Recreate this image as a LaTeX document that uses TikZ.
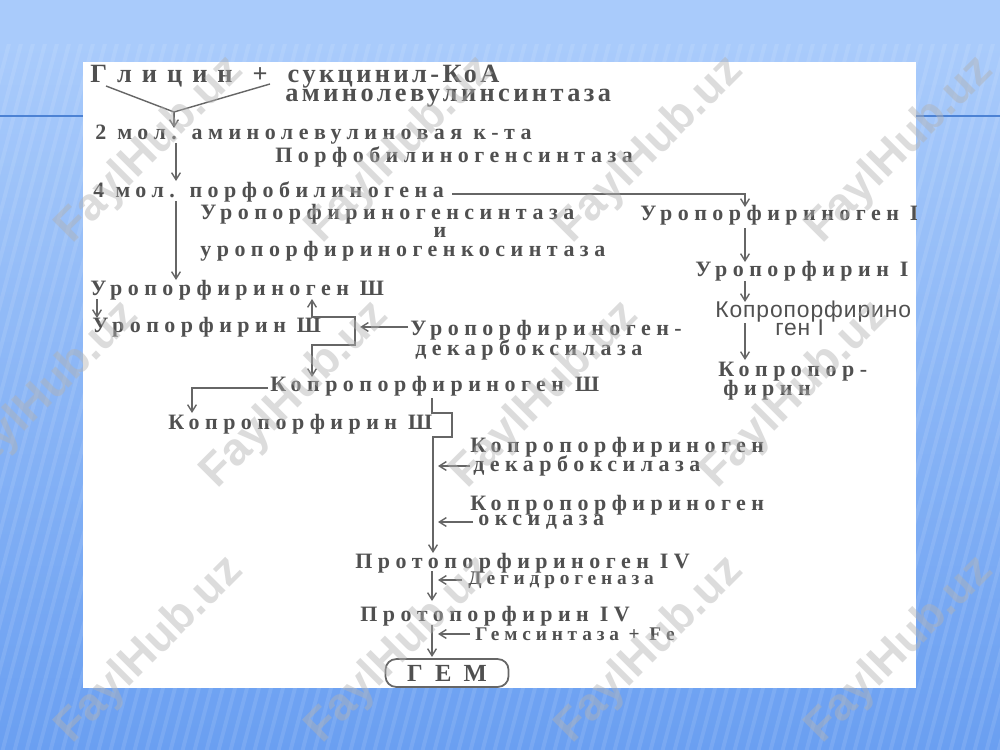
\documentclass[tikz,border=0pt]{standalone}
\usepackage{fontspec}
\setmainfont{Liberation Serif}
\newfontfamily\scanfont[LetterSpace=25]{Liberation Serif}
\newfontfamily\headfont[LetterSpace=13]{Liberation Serif}
\newfontfamily\sidefont[LetterSpace=4]{Liberation Sans}
\newfontfamily\wmfont{Liberation Sans}
\usetikzlibrary{arrows.meta,positioning}

\definecolor{ink}{HTML}{505050}
\definecolor{wirec}{HTML}{666666}
\definecolor{skytop}{HTML}{A9CBFB}
\definecolor{skybot}{HTML}{6A9FF1}
\definecolor{rule}{HTML}{4C82D4}

\tikzset{
	lbl/.style={anchor=west,inner sep=0pt,text=ink,font=\scanfont\bfseries\fontsize{12.5}{14}\selectfont},
	head/.style={lbl,font=\headfont\bfseries\fontsize{15}{17}\selectfont},
	small/.style={lbl,font=\scanfont\bfseries\fontsize{11}{13}\selectfont},
	side/.style={lbl,font=\sidefont\fontsize{13}{15}\selectfont},
	wire/.style={draw=wirec,line width=0.8pt},
	flow/.style={wire,-{Straight Barb[length=4pt,width=5pt]}},
	flowboth/.style={wire,{Straight Barb[length=4pt,width=5pt]}-{Straight Barb[length=4pt,width=5pt]}},
	wmark/.style={rotate=45,text=gray!60,opacity=0.45,font=\wmfont\bfseries\fontsize{26}{28}\selectfont},
}

\begin{document}
\begin{tikzpicture}[x=0.02cm,y=-0.02cm]
	% slide background
	\useasboundingbox (0,0) rectangle (1000,750);
	\fill[skytop] (0,0) rectangle (1000,45);
	\shade[top color=skytop,bottom color=skybot] (0,45) rectangle (1000,750);
	\begin{scope}
		\clip (0,45) rectangle (1000,750);
		\foreach \i in {-20,...,85}
			\draw[white,opacity=0.10,line width=2.2pt] (\i*12,760) -- ++(190,-720);
	\end{scope}
	\draw[rule,line width=0.8pt] (0,116) -- (1000,116);

	% scanned sheet
	\fill[white] (83,62) rectangle (916,688);
	\begin{scope}
		\clip (83,62) rectangle (916,688);

		\node[head] (gly) at (90,77) {Г л и ц и н \ + \ сукцинил-КоА};
		\node[head] (alas) at (285,98) {аминолевулинсинтаза};
		\node[lbl] (ala) at (95,135) {2 мол. аминолевулиновая к-та};
		\node[lbl] (pbgs) at (275,157) {Порфобилиногенсинтаза};
		\node[lbl] (pbg) at (93,192) {4 мол. порфобилиногена};
		\node[lbl] (uros) at (200,214) {Уропорфириногенсинтаза};
		\node[lbl,anchor=center] (and) at (440,232) {и};
		\node[lbl] (urocos) at (200,251) {уропорфириногенкосинтаза};
		\node[lbl] (urogen3) at (90,290) {Уропорфириноген Ш};
		\node[lbl] (uro3) at (92,327) {Уропорфирин Ш};
		\node[lbl] (urod) at (410,330) {Уропорфириноген-};
		\node[lbl] (urodb) at (415,350) {декарбоксилаза};
		\node[lbl] (coprogen3) at (270,386) {Копропорфириноген Ш};
		\node[lbl] (copro3) at (168,424) {Копропорфирин Ш};
		\node[lbl] (cpgd) at (470,447) {Копропорфириноген};
		\node[lbl] (cpgdb) at (473,466) {декарбоксилаза};
		\node[lbl] (cpgo) at (470,505) {Копропорфириноген};
		\node[lbl] (cpgob) at (478,522) {оксидаза};
		\node[lbl] (protogen) at (355,563) {Протопорфириноген IV};
		\node[small] (dehyd) at (468,580) {Дегидрогеназа};
		\node[lbl] (proto) at (360,616) {Протопорфирин IV};
		\node[small] (fech) at (475,634) {Гемсинтаза + Fe};
		\node[draw=wirec,line width=1pt,rounded corners=6pt,minimum width=2.46cm,minimum height=0.52cm,
			text=ink,font=\headfont\bfseries\fontsize{14}{16}\selectfont] (heme) at (447,673) {Г\enspace Е\enspace М};

		% side branch
		\node[lbl] (urogen1) at (640,215) {Уропорфириноген I};
		\node[lbl] (uro1) at (695,271) {Уропорфирин I};
		\node[side] (coprogen1) at (715,312) {Копропорфирино};
		\node[side] (coprogen1b) at (775,328) {ген I};
		\node[lbl] (copro1) at (718,372) {Копропор-};
		\node[lbl] (copro1b) at (723,390) {фирин};

		% connectors
		\coordinate (gl) at (106,86);
		\coordinate (sk) at (270,84);
		\coordinate (j1) at (174,112);
		\draw[wire] (gl) -- (j1) -- (sk);
		\draw[flow] (j1) -- (174,128);
		\draw[flow] (176,143) -- (176,181);
		\draw[flow] (176,201) -- (176,280);
		\draw[flow] (452,194) -| (745,207);
		\draw[flow] (745,228) -- (745,262);
		\draw[flow] (745,281) -- (745,302);
		\draw[flow] (745,323) -- (745,360);
		\draw[flow] (97,299) -- (97,318);
		\draw[flowboth] (312,299) -- (312,317) -- (355,317) -- (355,345) -- (312,345) -- (312,377);
		\draw[flow] (408,327) -- (360,327);
		\draw[flow] (268,388) -| (192,413);
		\draw[flow] (432,398) -- (432,413) -- (452,413) -- (452,437) -- (433,437) -- (433,553);
		\draw[flow] (470,466) -- (438,466);
		\draw[flow] (473,522) -- (438,522);
		\draw[flow] (432,571) -- (432,601);
		\draw[flow] (462,580) -- (438,580);
		\draw[flow] (432,625) -- (432,657);
		\draw[flow] (470,634) -- (438,634);
	\end{scope}

	% watermarks
	\foreach \x in {150,400,650,900} {
		\node[wmark] at (\x,150) {FaylHub.uz};
		\node[wmark] at (\x,650) {FaylHub.uz};
	}
	\foreach \x in {45,295,545,795}
		\node[wmark] at (\x,395) {FaylHub.uz};
\end{tikzpicture}
\end{document}
